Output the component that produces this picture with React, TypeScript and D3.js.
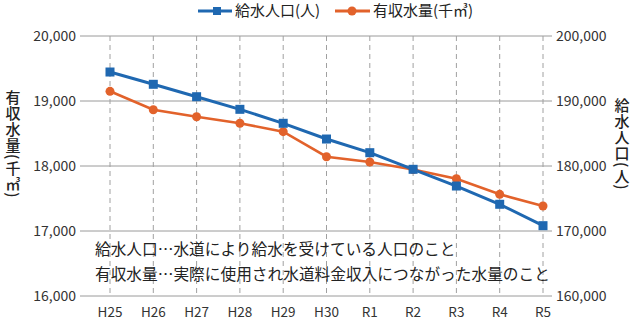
import React from "react";
import * as d3 from "d3";

const categories = ["H25", "H26", "H27", "H28", "H29", "H30", "R1", "R2", "R3", "R4", "R5"];
const population = [194460, 192570, 190660, 188720, 186570, 184150, 182050, 179490, 176920, 174110, 170820];
const revenueWater = [19149, 18866, 18758, 18657, 18528, 18143, 18062, 17946, 17805, 17564, 17385];
const leftTicks = [16000, 17000, 18000, 19000, 20000];
const rightTicks = [160000, 170000, 180000, 190000, 200000];
const seriesNames = ["給水人口(人)", "有収水量(千㎥)"];
const notes = [
  "給水人口…水道により給水を受けている人口のこと",
  "有収水量…実際に使用され水道料金収入につながった水量のこと",
];

const BLUE = "#1f68b1";
const ORANGE = "#e2622b";
const FONT = "'Noto Sans CJK JP', 'Noto Sans', sans-serif";

export default function App() {
  const W = 644, H = 327;
  const gridX0 = 80, gridX1 = 552;
  const x = d3.scalePoint<string>().domain(categories).range([110, 543]);
  const yL = d3.scaleLinear().domain([16000, 20000]).range([296, 36]);
  const yR = d3.scaleLinear().domain([160000, 200000]).range([296, 36]);
  const lineL = d3.line<number>().x((_, i) => x(categories[i])!).y((d) => yL(d));
  const lineR = d3.line<number>().x((_, i) => x(categories[i])!).y((d) => yR(d));
  const vert = { writingMode: "vertical-rl", letterSpacing: "1px" } as any;

  return (
    <svg width={W} height={H} style={{ position: "absolute", left: 0, top: 0, background: "#fff" }} fontFamily={FONT}>
      {leftTicks.map((t) => (
        <line key={t} x1={gridX0} x2={gridX1} y1={yL(t)} y2={yL(t)} stroke="#9a9a9a" strokeWidth={1} />
      ))}
      {categories.map((c) => (
        <line key={c} x1={x(c)} x2={x(c)} y1={yL(20000)} y2={yL(16000)} stroke="#a0a0a0" strokeWidth={1} strokeDasharray="5,4" />
      ))}
      {leftTicks.map((t) => (
        <text key={t} x={76} y={yL(t)} dy="0.35em" textAnchor="end" fontSize={14} fill="#333">
          {d3.format(",")(t)}
        </text>
      ))}
      {rightTicks.map((t) => (
        <text key={t} x={556} y={yR(t)} dy="0.35em" textAnchor="start" fontSize={14} fill="#333">
          {d3.format(",")(t)}
        </text>
      ))}
      {categories.map((c) => (
        <text key={c} x={x(c)} y={317} textAnchor="middle" fontSize={13.5} fill="#333">
          {c}
        </text>
      ))}
      <text x={13} y={90} fontSize={15} fill="#222" fontWeight={500} style={vert}>
        {seriesNames[1]}
      </text>
      <text x={622} y={98} fontSize={15} fill="#222" fontWeight={500} style={vert}>
        {seriesNames[0]}
      </text>
      {notes.map((n, i) => (
        <text key={i} x={95} y={255 + i * 25} fontSize={15.7} fill="#222">
          {n}
        </text>
      ))}
      <path d={lineL(revenueWater)!} fill="none" stroke={ORANGE} strokeWidth={2.6} />
      <path d={lineR(population)!} fill="none" stroke={BLUE} strokeWidth={3} />
      {revenueWater.map((v, i) => (
        <circle key={i} cx={x(categories[i])} cy={yL(v)} r={4.5} fill={ORANGE} />
      ))}
      {population.map((v, i) => (
        <rect key={i} x={x(categories[i])! - 4.5} y={yR(v) - 4.5} width={9} height={9} fill={BLUE} />
      ))}
      <g>
        <line x1={198} x2={232} y1={11} y2={11} stroke={BLUE} strokeWidth={3} />
        <rect x={213} y={7} width={8} height={8} fill={BLUE} />
        <text x={235} y={11} dy="0.35em" fontSize={15} fill="#222">{seriesNames[0]}</text>
        <line x1={335} x2={370} y1={11} y2={11} stroke={ORANGE} strokeWidth={3} />
        <circle cx={352} cy={11} r={4.5} fill={ORANGE} />
        <text x={373} y={11} dy="0.35em" fontSize={15} fill="#222">{seriesNames[1]}</text>
      </g>
    </svg>
  );
}
